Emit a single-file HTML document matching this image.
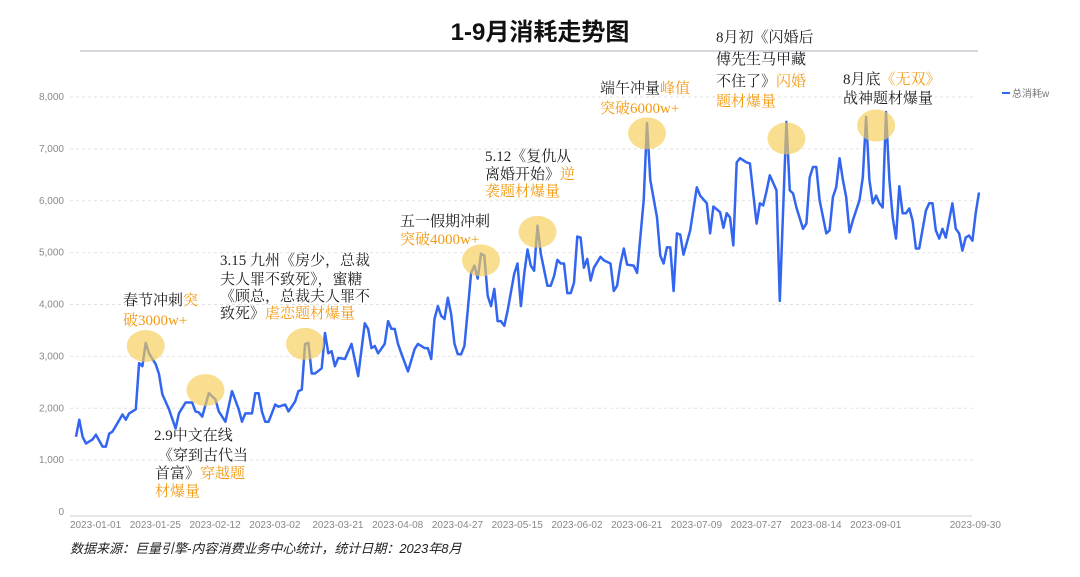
<!DOCTYPE html>
<html><head><meta charset="utf-8"><style>
body{margin:0;background:#fff;width:1080px;height:577px;overflow:hidden}
svg{display:block;font-family:"Liberation Sans","Noto Sans CJK SC",sans-serif}
.ann{font-family:"Liberation Serif","Noto Serif CJK SC",serif;font-size:15px;fill:#222}
.or{fill:#f39a12}
.yl{font-size:10px;fill:#888;text-anchor:end}
.xl{font-size:10px;fill:#888}
</style></head><body>
<svg id="chart" width="1080" height="577" viewBox="0 0 1080 577">
<text x="540" y="40" text-anchor="middle" font-size="24" font-weight="bold" fill="#111" font-family="Liberation Sans, Noto Sans CJK SC, sans-serif">1-9月消耗走势图</text>
<line x1="80" y1="51" x2="978" y2="51" stroke="#aab0b8" stroke-width="1"/>
<g id="grid"></g>
<g id="yaxis"></g>
<line x1="70" y1="516" x2="972" y2="516" stroke="#ccc" stroke-width="1"/>
<g id="xaxis"></g>
<path id="series" fill="none" stroke="#3366f0" stroke-width="2.5" stroke-linejoin="round"/>
<g id="hl"></g>
<g>
<line x1="1002" y1="93" x2="1010" y2="93" stroke="#3366f0" stroke-width="2"/>
<text x="1012" y="97" font-size="10" fill="#777">总消耗w</text>
</g>
<g>
<text class="ann"><tspan x="123" y="305">春节冲刺<tspan class="or">突</tspan></tspan><tspan x="123" y="325" class="or">破3000w+</tspan></text>
<text class="ann"><tspan x="154" y="440">2.9中文在线</tspan><tspan x="158" y="460">《穿到古代当</tspan><tspan x="155" y="478">首富》<tspan class="or">穿越题</tspan></tspan><tspan x="155" y="496" class="or">材爆量</tspan></text>
<text class="ann"><tspan x="220" y="265">3.15 九州《房少，总裁</tspan><tspan x="220" y="284">夫人罪不致死》，蜜糖</tspan><tspan x="220" y="301">《顾总，总裁夫人罪不</tspan><tspan x="220" y="318">致死》<tspan class="or">虐恋题材爆量</tspan></tspan></text>
<text class="ann"><tspan x="400" y="226">五一假期冲刺</tspan><tspan x="400" y="244" class="or">突破4000w+</tspan></text>
<text class="ann"><tspan x="485" y="161">5.12《复仇从</tspan><tspan x="485" y="179">离婚开始》<tspan class="or">逆</tspan></tspan><tspan x="485" y="196" class="or">袭题材爆量</tspan></text>
<text class="ann"><tspan x="600" y="93">端午冲量<tspan class="or">峰值</tspan></tspan><tspan x="600" y="113" class="or">突破6000w+</tspan></text>
<text class="ann"><tspan x="716" y="42">8月初《闪婚后</tspan><tspan x="716" y="64">傅先生马甲藏</tspan><tspan x="716" y="86">不住了》<tspan class="or">闪婚</tspan></tspan><tspan x="716" y="106" class="or">题材爆量</tspan></text>
<text class="ann"><tspan x="843" y="84">8月底<tspan class="or">《无双》</tspan></tspan><tspan x="843" y="103">战神题材爆量</tspan></text>
</g>
<text x="70" y="553" font-size="13" font-style="italic" fill="#222">数据来源：巨量引擎-内容消费业务中心统计，统计日期：2023年8月</text>
</svg>
<script>
const days=[0,1,2,3,5,6,8,9,10,11,14,15,16,17,18,19,20,21,22,24,25,26,28,30,31,33,35,36,37,38,40,42,43,45,47,49,50,51,53,54,55,56,57,58,60,61,63,64,66,67,68,69,70,71,72,74,75,76,77,78,79,81,83,85,87,88,89,90,91,93,94,95,96,97,98,100,102,103,105,106,107,108,109,110,111,112,113,114,115,116,117,118,119,120,121,122,123,124,125,126,127,128,129,130,132,133,134,135,136,137,138,139,140,142,143,144,145,146,147,148,149,150,151,152,153,154,155,156,158,159,161,162,163,164,165,166,168,169,171,172,173,175,176,177,178,179,180,181,182,183,185,187,188,190,191,192,194,195,196,197,198,199,200,202,203,205,206,207,208,209,211,212,213,214,215,216,217,219,220,221,222,223,224,226,227,228,229,230,231,232,233,234,236,237,238,239,240,241,242,243,244,245,246,247,248,249,250,251,252,253,254,256,257,258,259,260,261,262,264,265,266,267,268,269,270,271,272];
const values=[1450,1780,1450,1320,1400,1490,1260,1260,1510,1550,1880,1780,1900,1940,1980,2870,2810,3260,3060,2850,2660,2270,1980,1610,1900,2110,2110,1940,1920,1840,2290,2170,1940,1740,2330,1980,1740,1900,1900,2290,2290,1940,1740,1740,2070,2030,2070,1940,2130,2330,2360,3240,3260,2670,2670,2770,3450,3060,3100,2810,2970,2950,3240,2620,3640,3530,3160,3200,3060,3240,3680,3530,3530,3240,3060,2710,3140,3240,3160,3160,2950,3720,3970,3780,3720,4130,3820,3240,3040,3040,3200,3880,4610,4750,4500,4980,4940,4170,3970,4300,3680,3680,3590,3880,4590,4790,3970,4590,5060,4750,4650,5520,4980,4360,4360,4550,4860,4790,4790,4220,4220,4420,5310,5290,4710,4880,4460,4710,4920,4850,4790,4260,4360,4790,5080,4770,4750,4610,6010,7500,6400,5680,4940,4790,5100,5100,4260,5370,5350,4960,5430,6260,6100,5950,5370,5890,5780,5480,5760,5680,5140,6740,6820,6740,6720,5560,5950,5910,6180,6490,6200,4070,5810,7520,6200,6140,5870,5460,5560,6450,6650,6650,6010,5370,5430,6070,6260,6820,6400,6070,5390,5620,6010,6450,7620,6400,5950,6100,5950,5870,7710,6400,5680,5270,6280,5760,5760,5850,5620,5080,5080,5810,5950,5950,5430,5270,5460,5290,5950,5460,5370,5040,5290,5330,5230,5760,6160];
const yTicks=[0,1000,2000,3000,4000,5000,6000,7000,8000];
const yTickLabels=["0","1,000","2,000","3,000","4,000","5,000","6,000","7,000","8,000"];
const xTickLabels=["2023-01-01","2023-01-25","2023-02-12","2023-03-02","2023-03-21","2023-04-08","2023-04-27","2023-05-15","2023-06-02","2023-06-21","2023-07-09","2023-07-27","2023-08-14","2023-09-01","2023-09-30"];
const xTickDays=[0,18,36,54,73,91,109,127,145,163,181,199,217,235,265];
const highlightDays=[21,39,69,122,139,172,214,241];
const highlightValues=[3200,2350,3240,4850,5400,7300,7200,7450];

const NS="http://www.w3.org/2000/svg";
const X0=76,X1=979,Y0=512,Y1=97,DMAX=272,VMAX=8000;
const xs=d=>X0+d*(X1-X0)/DMAX;
const ys=v=>Y0-v*(Y0-Y1)/VMAX;
const grid=document.getElementById('grid'),ya=document.getElementById('yaxis'),xa=document.getElementById('xaxis');
yTicks.forEach((t,i)=>{
  if(t>0){const l=document.createElementNS(NS,'line');
  
  
  l.setAttribute('x1',70);l.setAttribute('x2',975);l.setAttribute('y1',ys(t));l.setAttribute('y2',ys(t));
  l.setAttribute('stroke','#e2e2e2');l.setAttribute('stroke-dasharray','3,3');grid.appendChild(l);}
  const tx=document.createElementNS(NS,'text');
  
  
  tx.setAttribute('class','yl');tx.setAttribute('x',64);tx.setAttribute('y',ys(t)+3);tx.textContent=yTickLabels[i];ya.appendChild(tx);
});
xTickLabels.forEach((s,i)=>{
  const tx=document.createElementNS(NS,'text');
  
  
  tx.setAttribute('class','xl');tx.setAttribute('x',xs(xTickDays[i])-6);tx.setAttribute('y',528);tx.textContent=s;xa.appendChild(tx);
});
let d='';
days.forEach((dd,i)=>{d+=(i?'L':'M')+xs(dd).toFixed(1)+','+ys(values[i]).toFixed(1);});
document.getElementById('series').setAttribute('d',d);
const hl=document.getElementById('hl');
highlightDays.forEach((dd,i)=>{
  const e=document.createElementNS(NS,'ellipse');
  
  
  e.setAttribute('cx',xs(dd));e.setAttribute('cy',ys(highlightValues[i]));
  e.setAttribute('rx',19);e.setAttribute('ry',16);
  e.setAttribute('fill','#f7cc55');e.setAttribute('fill-opacity','0.65');hl.appendChild(e);
});
</script>
</body></html>
